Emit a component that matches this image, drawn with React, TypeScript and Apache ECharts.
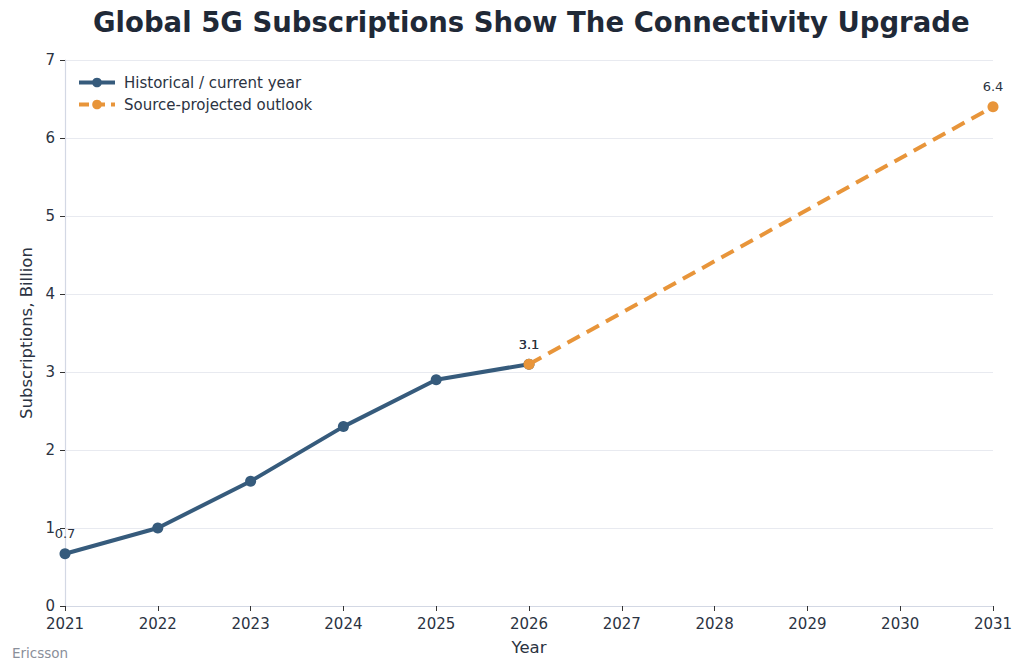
import React, { useEffect, useRef } from "react";
import * as echarts from "echarts";

const years = [2021, 2022, 2023, 2024, 2025, 2026];
const historical = [0.67, 1.0, 1.6, 2.3, 2.9, 3.1];
const projectedYears = [2026, 2031];
const projected = [3.1, 6.4];
const labelledYears = [2021, 2026, 2031];
const labelText: Record<number, string> = { 2021: "0.7", 2026: "3.1", 2031: "6.4" };

const FONT = "DejaVu Sans";
const BLUE = "#365b7c";
const ORANGE = "#e8953a";
const TEXT = "#2b3342";

export default function App() {
  const ref = useRef<HTMLDivElement>(null);

  useEffect(() => {
    document.body.style.margin = "0";
    if (!ref.current) return;
    const chart = echarts.init(ref.current, undefined, { renderer: "svg" });

    const label = (year: number) => ({
      show: labelledYears.includes(year),
      position: "top" as const,
      distance: 8,
      formatter: () => labelText[year],
      fontFamily: FONT,
      fontSize: 13,
      color: TEXT,
    });

    chart.setOption({
      animation: false,
      backgroundColor: "#ffffff",
      textStyle: { fontFamily: FONT },
      title: {
        text: "Global 5G Subscriptions Show The Connectivity Upgrade",
        left: 88,
        top: 3,
        textStyle: { fontFamily: FONT, fontSize: 27.5, fontWeight: "bold", color: "#1f2937" },
      },
      legend: {
        left: 72,
        top: 70,
        orient: "vertical",
        itemGap: 7,
        itemWidth: 36,
        itemHeight: 12,
        textStyle: { fontFamily: FONT, fontSize: 15, color: TEXT, padding: [0, 0, 0, 4] },
        data: [
          { name: "Historical / current year", lineStyle: { width: 4, color: BLUE } },
          { name: "Source-projected outlook", lineStyle: { width: 4, color: ORANGE, type: [10, 6] } },
        ],
      },
      grid: { left: 65, right: 31, top: 60, bottom: 66, containLabel: false },
      xAxis: {
        type: "value",
        min: 2021,
        max: 2031,
        interval: 1,
        name: "Year",
        nameLocation: "middle",
        nameGap: 33,
        nameTextStyle: { fontFamily: FONT, fontSize: 16.5, color: TEXT },
        axisLine: { show: true, lineStyle: { color: "#d3d8e4", width: 1.2 } },
        axisTick: { show: true, length: 5, lineStyle: { color: "#333" } },
        axisLabel: {
          fontFamily: FONT,
          fontSize: 15,
          color: TEXT,
          margin: 10,
          formatter: (v: number) => String(v),
        },
        splitLine: { show: false },
      },
      yAxis: {
        type: "value",
        min: 0,
        max: 7,
        interval: 1,
        name: "Subscriptions, Billion",
        nameLocation: "middle",
        nameGap: 25,
        nameTextStyle: { fontFamily: FONT, fontSize: 16.5, color: TEXT },
        axisLine: { show: true, lineStyle: { color: "#d3d8e4", width: 1.2 } },
        axisTick: { show: true, length: 5, lineStyle: { color: "#333" } },
        axisLabel: { fontFamily: FONT, fontSize: 15, color: TEXT, margin: 10 },
        splitLine: { show: true, lineStyle: { color: "#e8eaf0", width: 1 } },
      },
      graphic: [
        {
          type: "text",
          left: 12,
          top: 646,
          style: { text: "Ericsson", fontFamily: FONT, fontSize: 13.5, fill: "#8a8f9a" },
        },
      ],
      series: [
        {
          name: "Historical / current year",
          type: "line",
          data: years.map((y, i) => ({ value: [y, historical[i]], label: label(y) })),
          color: BLUE,
          lineStyle: { width: 4, color: BLUE },
          symbol: "circle",
          symbolSize: 11,
          itemStyle: { color: BLUE },
          z: 3,
        },
        {
          name: "Source-projected outlook",
          type: "line",
          data: projectedYears.map((y, i) => ({ value: [y, projected[i]], label: label(y) })),
          color: ORANGE,
          lineStyle: { width: 4, color: ORANGE, type: [14, 8] },
          symbol: "circle",
          symbolSize: 11,
          itemStyle: { color: ORANGE },
          z: 4,
        },
      ],
    });

    return () => chart.dispose();
  }, []);

  return <div ref={ref} style={{ width: 1024, height: 672 }} />;
}
